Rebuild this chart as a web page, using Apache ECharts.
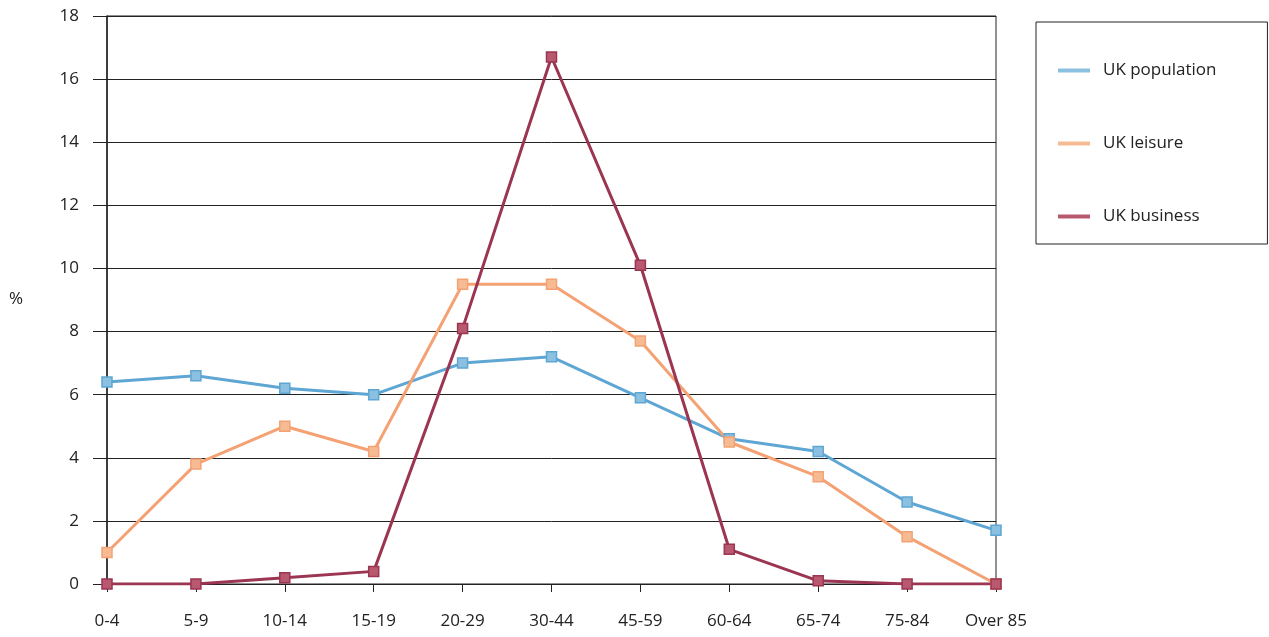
<!DOCTYPE html>
<html>
<head>
<meta charset="utf-8">
<script src="https://cdn.jsdelivr.net/npm/echarts@6/dist/echarts.min.js"></script>
<style>
html,body{margin:0;padding:0;background:#fff;}
#main{width:1269px;height:637px;}
</style>
</head>
<body>
<div id="main"></div>
<script>
// age bands
var ageBands = ['0-4','5-9','10-14','15-19','20-29','30-44','45-59','60-64','65-74','75-84','Over 85'];
// % values
var ukPopulation = [6.4, 6.6, 6.2, 6.0, 7.0, 7.2, 5.9, 4.6, 4.2, 2.6, 1.7];
var ukLeisure    = [1.0, 3.8, 5.0, 4.2, 9.5, 9.5, 7.7, 4.5, 3.4, 1.5, 0.0];
var ukBusiness   = [0.0, 0.0, 0.2, 0.4, 8.1, 16.7, 10.1, 1.1, 0.1, 0.0, 0.0];
var yTicks = [0, 2, 4, 6, 8, 10, 12, 14, 16, 18];

var font = "'Open Sans', 'Noto Sans', sans-serif";
var chart = echarts.init(document.getElementById('main'));

function mkSeries(name, data, col, fill){
	return {
		name: name,
		type: 'line',
		data: data,
		symbol: 'rect',
		symbolSize: 10,
		lineStyle: {color: col, width: 3},
		itemStyle: {color: fill, borderColor: col, borderWidth: 1.5},
		emphasis: {disabled: true},
		animation: false
	};
}

var option = {
	backgroundColor: '#fff',
	grid: {
		left: 107, right: 273, top: 16, bottom: 53,
		show: true, borderColor: '#222', borderWidth: 1
	},
	legend: {
		orient: 'vertical',
		left: 1036, top: 22,
		padding: [40, 51, 19, 22],
		itemGap: 56,
		itemWidth: 32, itemHeight: 4,
		itemTextGap: 13,
		icon: 'rect',
		itemStyle: {borderWidth: 0},
		borderColor: '#222', borderWidth: 1,
		textStyle: {fontFamily: font, fontSize: 17, color: '#222', padding: [0, 0, 0, 8]},
		data: ['UK population', 'UK leisure', 'UK business']
	},
	xAxis: {
		type: 'category',
		boundaryGap: false,
		data: ageBands,
		axisLine: {lineStyle: {color: '#222', width: 1}},
		axisTick: {show: true, alignWithLabel: true, length: 8, lineStyle: {color: '#222'}},
		axisLabel: {margin: 29, fontFamily: font, fontSize: 17, color: '#222', interval: 0},
		splitLine: {show: false}
	},
	yAxis: {
		type: 'value',
		min: yTicks[0], max: yTicks[yTicks.length - 1], interval: 2,
		axisLine: {show: true, lineStyle: {color: '#222', width: 1.5}},
		axisTick: {show: true, length: 14, lineStyle: {color: '#222'}},
		axisLabel: {margin: 28, fontFamily: font, fontSize: 17, color: '#222'},
		splitLine: {show: true, lineStyle: {color: '#222', width: 1}}
	},
	graphic: [{
		type: 'text', left: 9, top: 291,
		style: {text: '%', font: '17px ' + font, fill: '#222'}
	}],
	series: [
		mkSeries('UK population', ukPopulation, '#5ea6d3', '#8cc0e0'),
		mkSeries('UK leisure', ukLeisure, '#f4a274', '#f7bb94'),
		mkSeries('UK business', ukBusiness, '#9b3552', '#b8596f')
	]
};
chart.setOption(option);
</script>
</body>
</html>
